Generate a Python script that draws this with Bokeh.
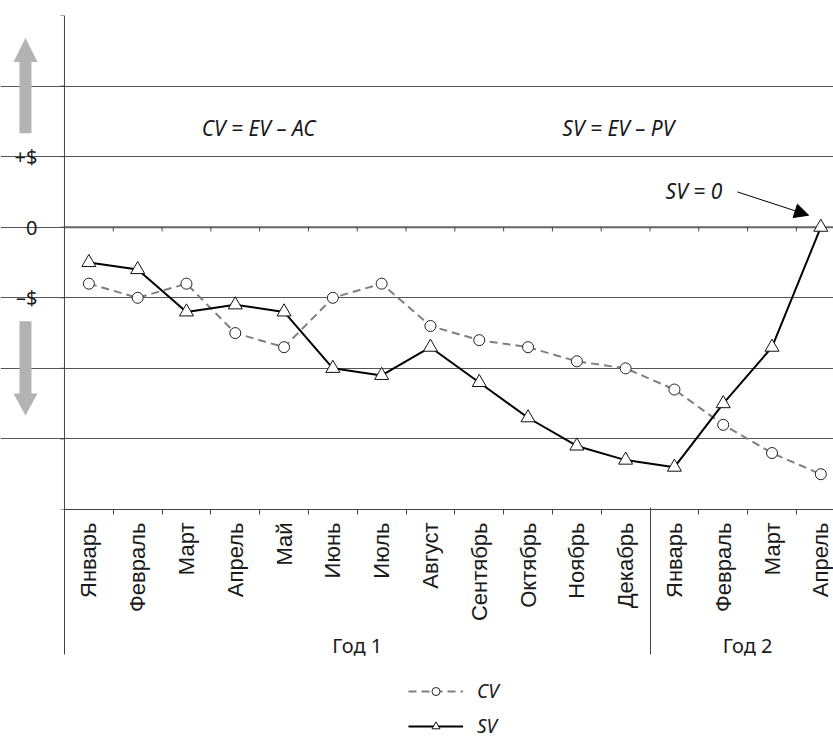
import numpy as np
from bokeh.plotting import figure
from bokeh.layouts import column
from bokeh.models import (Range1d, LinearAxis, FixedTicker, Arrow, NormalHead,
                          Label, Legend, LegendItem, Span)
from bokeh.embed import file_html
from bokeh.resources import INLINE

# ---------------- data ----------------
months = ["Январь", "Февраль", "Март", "Апрель", "Май", "Июнь", "Июль", "Август",
          "Сентябрь", "Октябрь", "Ноябрь", "Декабрь",
          "Январь", "Февраль", "Март", "Апрель"]
years = ["Год 1", "Год 2"]
year_sizes = [12, 4]
cv = [-0.8, -1.0, -0.8, -1.5, -1.7, -1.0, -0.8, -1.4, -1.6, -1.7, -1.9, -2.0,
      -2.3, -2.8, -3.2, -3.5]
sv = [-0.5, -0.6, -1.2, -1.1, -1.2, -2.0, -2.1, -1.7, -2.2, -2.7, -3.1, -3.3,
      -3.4, -2.5, -1.7, 0.0]
series_names = ["CV", "SV"]
y_ticks = [-4, -3, -2, -1, 0, 1, 2, 3]
y_tick_labels = {1: "+$", 0: "0", -1: "–$"}

# ---------------- derived ----------------
n = len(months)
centers = [i + 0.5 for i in range(n)]
bounds = list(range(n + 1))
group_edges = [int(v) for v in np.cumsum([0] + year_sizes)]
group_centers = [(group_edges[i] + group_edges[i + 1]) / 2 for i in range(len(years))]

TXT = "#1a1a1a"
GRID = "#555555"
AX = "#444444"
CV_LINE = dict(line_color="#7f7f7f", line_width=2, line_dash="8 5")
CV_MARK = dict(marker="circle", size=11, fill_color="white", line_color="#222222", line_width=1)
SV_LINE = dict(line_color="black", line_width=2)
SV_MARK = dict(marker="triangle", size=14, fill_color="white", line_color="#111111", line_width=1)

# the frame covers the full width; the value axis sits at x = 0 (data)
p = figure(frame_width=833, frame_height=494, x_range=Range1d(-1.311, 15.76),
           y_range=Range1d(-4, 3), output_backend="svg", toolbar_location=None,
           x_axis_location=None, min_border_left=0, min_border_right=0,
           min_border_top=15, min_border_bottom=0)
p.outline_line_color = None
p.background_fill_color = "white"
p.border_fill_color = "white"
p.xgrid.visible = False

# y axis (labels pulled inward onto the left margin area)
ya = p.yaxis[0]
ya.ticker = FixedTicker(ticks=y_ticks)
ya.major_label_overrides = {t: y_tick_labels.get(t, "") for t in y_ticks}
ya.major_tick_out = 0
ya.major_tick_in = 0
ya.major_tick_line_color = None
ya.minor_tick_line_color = None
ya.axis_line_color = None
ya.major_label_standoff = -37
ya.major_label_text_font = "Noto Sans"
ya.major_label_text_font_size = "20px"
ya.major_label_text_color = TXT

p.ygrid.ticker = FixedTicker(ticks=y_ticks)
p.ygrid.grid_line_color = GRID
p.ygrid.grid_line_width = 1
p.ygrid.bounds = (0, n)

# visible value-axis line and its small outward ticks
p.add_layout(Span(location=0, dimension="height", line_color=AX, line_width=1))
p.segment(x0=[-0.082] * len(y_ticks), y0=y_ticks, x1=[0] * len(y_ticks), y1=y_ticks,
          line_color=AX, line_width=1)

# zero line (category axis crossing) with boundary ticks
p.segment(x0=[0], y0=[0], x1=[n], y1=[0], line_color="#666666", line_width=2)
p.segment(x0=bounds, y0=[0] * len(bounds), x1=bounds, y1=[-0.06] * len(bounds),
          line_color=AX, line_width=1)

# month axis
xa = LinearAxis(ticker=FixedTicker(ticks=centers, minor_ticks=bounds), bounds=(0, n))
xa.major_label_overrides = {c: m for c, m in zip(centers, months)}
xa.major_label_orientation = np.pi / 2
xa.major_tick_line_color = None
xa.major_tick_out = 5
xa.major_tick_in = 0
xa.minor_tick_out = 5
xa.minor_tick_in = 0
xa.minor_tick_line_color = AX
xa.axis_line_color = AX
xa.major_label_standoff = 8
xa.major_label_text_font = "Liberation Sans"
xa.major_label_text_font_size = "22px"
xa.major_label_text_color = TXT
p.add_layout(xa, "below")

# year axis; its long minor ticks are the group separators
ga = LinearAxis(ticker=FixedTicker(ticks=group_centers, minor_ticks=group_edges))
ga.major_label_overrides = {c: y for c, y in zip(group_centers, years)}
ga.major_tick_line_color = None
ga.axis_line_color = None
ga.major_tick_out = 0
ga.major_tick_in = 0
ga.minor_tick_line_color = AX
ga.minor_tick_in = 117
ga.minor_tick_out = 30
ga.major_label_standoff = -23
ga.major_label_text_font = "Noto Sans"
ga.major_label_text_font_size = "20px"
ga.major_label_text_color = TXT
p.add_layout(ga, "below")

# series
p.line(centers, cv, **CV_LINE)
p.scatter(centers, cv, **CV_MARK)
p.line(centers, sv, **SV_LINE)
p.scatter(centers, sv, **SV_MARK)

# gray direction arrows (left of the value axis)
gray = "#b3b3b3"
ax_c, head_hw, shaft_hw = -0.799, 0.246, 0.123
up = dict(tip=2.681, base=2.340, tail=1.333)
dn = dict(tip=-2.667, base=-2.355, tail=-1.333)
for a in (up, dn):
    xs = [ax_c, ax_c - head_hw, ax_c - shaft_hw, ax_c - shaft_hw,
          ax_c + shaft_hw, ax_c + shaft_hw, ax_c + head_hw]
    ys = [a["tip"], a["base"], a["base"], a["tail"], a["tail"], a["base"], a["base"]]
    p.patch(xs, ys, fill_color=gray, line_color=None)

# annotations
for txt, x, y in [("CV = EV – AC", 3.98, 1.40), ("SV = EV – PV", 11.35, 1.40),
                  ("SV = 0", 12.9, 0.52)]:
    p.add_layout(Label(x=x, y=y, text=txt, text_align="center", text_baseline="middle",
                       text_font="Noto Sans", text_font_style="italic",
                       text_font_size="21px", text_color=TXT))
p.add_layout(Arrow(end=NormalHead(size=14, fill_color="black", line_color="black"),
                   x_start=13.79, y_start=0.50, x_end=15.25, y_end=0.17,
                   line_color="black", line_width=1))

# ---------------- legend strip below the chart ----------------
lg = figure(width=833, height=78, x_range=Range1d(0, 1), y_range=Range1d(0, 1),
            output_backend="svg", toolbar_location=None, min_border=0,
            x_axis_location=None, y_axis_location=None)
lg.outline_line_color = None
lg.grid.visible = False
lg.background_fill_color = "white"
lg.border_fill_color = "white"
# style carriers for the legend swatches, placed outside the visible range
off_x, off_y = [-5, -4], [-5, -5]
r_cv = [lg.line(off_x, off_y, **CV_LINE), lg.scatter(off_x[:1], off_y[:1], **CV_MARK)]
r_sv = [lg.line(off_x, off_y, **SV_LINE), lg.scatter(off_x[:1], off_y[:1], **SV_MARK)]
legend = Legend(items=[LegendItem(label=series_names[0], renderers=r_cv),
                       LegendItem(label=series_names[1], renderers=r_sv)],
                orientation="vertical", location=(408, 0))
legend.glyph_width = 55
legend.glyph_height = 20
legend.label_height = 20
legend.spacing = 9
legend.label_standoff = 14
legend.padding = 0
legend.margin = 0
legend.border_line_color = None
legend.background_fill_alpha = 0
legend.label_text_font = "Noto Sans"
legend.label_text_font_style = "italic"
legend.label_text_font_size = "19px"
legend.label_text_color = TXT
lg.add_layout(legend, "center")

layout = column(p, lg, spacing=0)
open("out.html", "w").write(file_html(layout, INLINE))
